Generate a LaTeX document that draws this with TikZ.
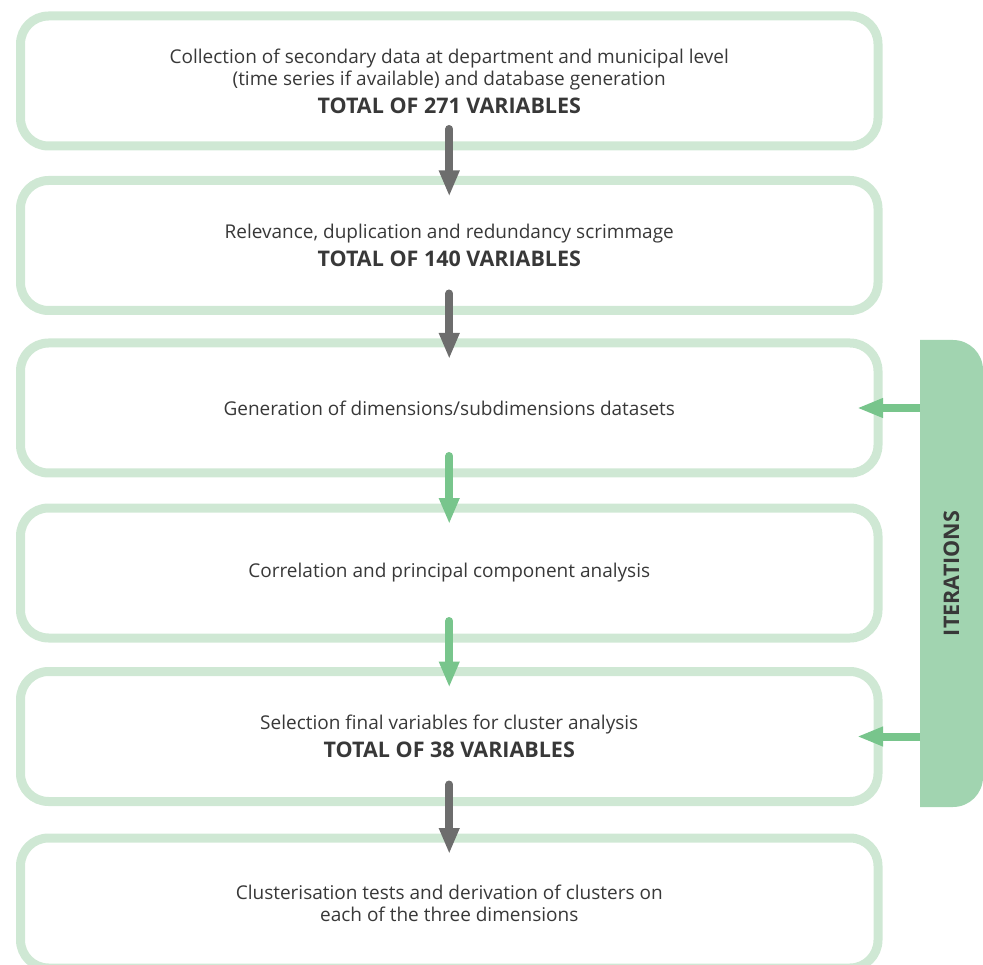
\documentclass[tikz,border=0pt]{standalone}
\usepackage{fontspec}
\setmainfont{Open Sans}
\usetikzlibrary{arrows.meta}
\definecolor{boxline}{HTML}{CFE8D4}
\definecolor{arrgray}{HTML}{6D6D6D}
\definecolor{arrgreen}{HTML}{78C58C}
\definecolor{barfill}{HTML}{A1D4B0}
\definecolor{txt}{HTML}{383838}
\newcommand{\totalsfont}{\fontsize{21.5}{26}\selectfont\bfseries}
\tikzset{
  stagebox/.style={draw=boxline, line width=9pt, rounded corners=28pt, outer sep=0pt,
    minimum width=857.5pt, minimum height=130pt, inner sep=0pt, align=center,
    text=txt, font=\fontsize{19}{22}\selectfont},
  grayarrow/.style={draw=arrgray, line width=8pt, line cap=round,
    -{Triangle[length=26pt,width=19pt]}},
  greenarrow/.style={draw=arrgreen, line width=8pt, line cap=round,
    -{Triangle[length=26pt,width=19pt]}},
  sidearrow/.style={draw=arrgreen, line width=8pt,
    -{Triangle[length=26pt,width=18pt]}}
}
\begin{document}
\begin{tikzpicture}[x=1pt,y=-1pt]
\useasboundingbox (0,0) rectangle (983,965);
\node[stagebox] (b1) at (449.25,81) {Collection of secondary data at department and municipal level\\(time series if available) and database generation\\[6pt]{\totalsfont TOTAL OF 271 VARIABLES}};
\node[stagebox] (b2) at (449.25,245.5) {Relevance, duplication and redundancy scrimmage\\[6pt]{\totalsfont TOTAL OF 140 VARIABLES}};
\node[stagebox] (b3) at (449.25,408) {Generation of dimensions/subdimensions datasets};
\node[stagebox] (b4) at (449.25,573) {Correlation and principal component analysis};
\node[stagebox] (b5) at (449.25,736.5) {Selection final variables for cluster analysis\\[6pt]{\totalsfont TOTAL OF 38 VARIABLES}};
\node[stagebox] (b6) at (449.25,903) {Clusterisation tests and derivation of clusters on\\each of the three dimensions};
% iterations bar
\node[inner sep=0pt, outer sep=0pt, minimum width=63pt, minimum height=467pt] (bar) at (951.5,573.5) {};
\begin{scope}
\clip (bar.south west) rectangle (bar.north east);
\fill[barfill, rounded corners=30pt] ([xshift=-40pt]bar.north west) rectangle (bar.south east);
\end{scope}
\node[rotate=90, text=txt, font=\totalsfont] (itertxt) at (bar.center) {ITERATIONS};
% vertical arrows
\draw[grayarrow] ([yshift=17pt]b1.south) -- ([yshift=-16pt]b2.north);
\draw[grayarrow] ([yshift=17pt]b2.south) -- ([yshift=-16pt]b3.north);
\draw[greenarrow] ([yshift=17pt]b3.south) -- ([yshift=-16pt]b4.north);
\draw[greenarrow] ([yshift=17pt]b4.south) -- ([yshift=-16pt]b5.north);
\draw[grayarrow] ([yshift=17pt]b5.south) -- ([yshift=-16pt]b6.north);
% side arrows
\draw[sidearrow] (bar.west |- b3.east) -- ([xshift=-21pt]b3.east);
\draw[sidearrow] (bar.west |- b5.east) -- ([xshift=-21pt]b5.east);
\end{tikzpicture}
\end{document}
